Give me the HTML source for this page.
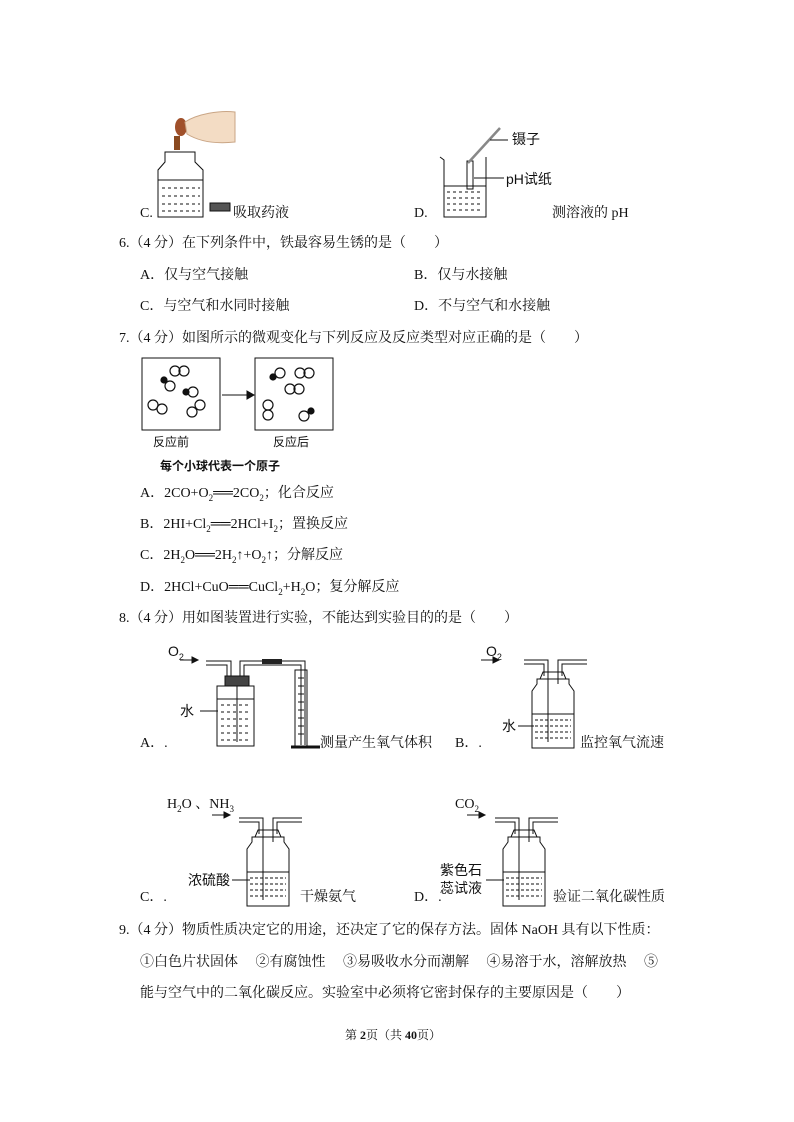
<!DOCTYPE html>
<html><head><meta charset="utf-8"><style>
body{margin:0;background:#fff;}
#p{position:relative;width:794px;height:1122px;overflow:hidden;font-family:"Liberation Serif","Noto Serif CJK SC",serif;font-size:14px;color:#111;}
.t{position:absolute;white-space:nowrap;line-height:16px;}
.s{font-family:"Liberation Sans","Noto Sans CJK SC",sans-serif;}
svg{position:absolute;left:0;top:0;}
</style></head><body><div id="p">
<svg width="794" height="1122" fill="none" stroke="#111" stroke-width="1">
<defs>
<g id="b">
<path d="M-29 0h24v16M-29 4h20v12M5 16v-16h29M9 16v-12h25"/>
<path d="M-10 12h20l3 7h-26z"/>
<path d="M-16 19h32v5l5 7v57h-42v-57l5-7z"/>
<path d="M-21 54h42"/>
<path d="M-18 60h36M-18 66h36M-18 72h36M-18 78h36" stroke-dasharray="3 2"/>
<path d="M-5 16v66M5 16v8"/>
</g>
</defs>
<path d="M165 152h30v10l8 8v47h-45v-47l7-8z"/>
<path d="M158 180h45"/>
<path d="M162 188h38M162 196h38M162 204h38M162 211h38" stroke-dasharray="3 3"/>
<path d="M177 150v-14" stroke="#8a4a20" stroke-width="6"/>
<ellipse cx="181" cy="127" rx="6" ry="9" fill="#a0502a" stroke="none"/>
<path d="M185 122c12-8 35-12 50-10l0 30c-18 2-35 0-48-8z" fill="#f3dcc4" stroke="#c9a585"/>
<rect x="210" y="203" width="20" height="8" fill="#555"/>
<path d="M440 157l4 3v57h42v-60"/>
<path d="M444 186h42" />
<path d="M447 192h36M447 198h36M447 204h36M447 210h36" stroke-dasharray="3 3"/>
<rect x="467" y="161" width="6" height="28"/>
<path d="M468 163l32-35" stroke-width="2.5" stroke="#888"/>
<path d="M490 140h18M474 178h30"/>
<rect x="142" y="358" width="78" height="72"/>
<rect x="255" y="358" width="78" height="72"/>
<path d="M222 395h28"/><path d="M247 391l7 4-7 4z" fill="#111"/>
<g stroke-width="1.2">
<circle cx="175" cy="371" r="5"/><circle cx="184" cy="371" r="5"/>
<circle cx="164" cy="380" r="3" fill="#111"/><circle cx="170" cy="386" r="5"/>
<circle cx="186" cy="392" r="3" fill="#111"/><circle cx="193" cy="392" r="5"/>
<circle cx="153" cy="405" r="5"/><circle cx="162" cy="409" r="5"/>
<circle cx="192" cy="412" r="5"/><circle cx="200" cy="405" r="5"/>
<circle cx="273" cy="377" r="3" fill="#111"/><circle cx="280" cy="373" r="5"/>
<circle cx="300" cy="373" r="5"/><circle cx="309" cy="373" r="5"/>
<circle cx="290" cy="389" r="5"/><circle cx="299" cy="389" r="5"/>
<circle cx="268" cy="405" r="5"/><circle cx="268" cy="415" r="5"/>
<circle cx="304" cy="416" r="5"/><circle cx="311" cy="411" r="3" fill="#111"/>
</g>
<path d="M180 660h14"/><path d="M192 657l6 3-6 3z" fill="#111"/>
<path d="M206 661h25v15M206 665h21v11M240 676v-15h27M244 676v-11h57v80M267 661h38v84"/>
<rect x="262" y="659" width="20" height="5" fill="#222" stroke="none"/>
<rect x="225" y="676" width="24" height="10" fill="#444"/>
<path d="M217 686h37v60h-37z"/>
<path d="M217 699h37"/>
<path d="M221 705h29M221 712h29M221 719h29M221 726h29M221 733h29M221 740h29" stroke-dasharray="3 3"/>
<path d="M237 686v56"/><path d="M200 711h18"/>
<rect x="295" y="670" width="12" height="76"/>
<path d="M298 678h6M298 686h6M298 694h6M298 702h6M298 710h6M298 718h6M298 726h6M298 734h6"/>
<path d="M291 747h29" stroke-width="3"/>
<path d="M481 660h14"/><path d="M493 657l6 3-6 3z" fill="#111"/>
<use href="#b" transform="translate(553,660)"/>
<path d="M518 726h16"/>
<path d="M212 815h14"/><path d="M224 812l6 3-6 3z" fill="#111"/>
<use href="#b" transform="translate(268,818)"/>
<path d="M232 880h18"/>
<path d="M467 815h14"/><path d="M479 812l6 3-6 3z" fill="#111"/>
<use href="#b" transform="translate(524,818)"/>
<path d="M486 880h18"/>
</svg>
<div class="t" style="left:140px;top:206px">C.</div>
<div class="t" style="left:233px;top:206px">吸取药液</div>
<div class="t s" style="left:512px;top:131px">镊子</div>
<div class="t s" style="left:506px;top:171px">pH试纸</div>
<div class="t" style="left:414px;top:206px">D.</div>
<div class="t" style="left:552px;top:206px">测溶液的 pH</div>
<div class="t" style="left:119px;top:236px">6.（4 分）在下列条件中，铁最容易生锈的是（　　）</div>
<div class="t" style="left:140px;top:268px">A．仅与空气接触</div>
<div class="t" style="left:414px;top:268px">B．仅与水接触</div>
<div class="t" style="left:140px;top:299px">C．与空气和水同时接触</div>
<div class="t" style="left:414px;top:299px">D．不与空气和水接触</div>
<div class="t" style="left:119px;top:331px">7.（4 分）如图所示的微观变化与下列反应及反应类型对应正确的是（　　）</div>
<div class="t s" style="left:153px;top:434px;font-size:12px">反应前</div>
<div class="t s" style="left:273px;top:434px;font-size:12px">反应后</div>
<div class="t s" style="left:160px;top:458px;font-size:12px;font-weight:bold">每个小球代表一个原子</div>
<div class="t" style="left:140px;top:486px">A．2CO+O<sub style="font-size:9px">2</sub>══2CO<sub style="font-size:9px">2</sub>；化合反应</div>
<div class="t" style="left:140px;top:517px">B．2HI+Cl<sub style="font-size:9px">2</sub>══2HCl+I<sub style="font-size:9px">2</sub>；置换反应</div>
<div class="t" style="left:140px;top:548px">C．2H<sub style="font-size:9px">2</sub>O══2H<sub style="font-size:9px">2</sub>↑+O<sub style="font-size:9px">2</sub>↑；分解反应</div>
<div class="t" style="left:140px;top:580px">D．2HCl+CuO══CuCl<sub style="font-size:9px">2</sub>+H<sub style="font-size:9px">2</sub>O；复分解反应</div>
<div class="t" style="left:119px;top:611px">8.（4 分）用如图装置进行实验，不能达到实验目的的是（　　）</div>
<div class="t s" style="left:168px;top:643px">O<sub style="font-size:9px">2</sub></div>
<div class="t s" style="left:180px;top:703px">水</div>
<div class="t" style="left:140px;top:736px">A．.</div>
<div class="t" style="left:320px;top:736px">测量产生氧气体积</div>
<div class="t s" style="left:486px;top:643px">O<sub style="font-size:9px">2</sub></div>
<div class="t s" style="left:502px;top:718px">水</div>
<div class="t" style="left:455px;top:736px">B．.</div>
<div class="t" style="left:580px;top:736px">监控氧气流速</div>
<div class="t" style="left:167px;top:797px">H<sub style="font-size:9px">2</sub>O 、NH<sub style="font-size:9px">3</sub></div>
<div class="t s" style="left:188px;top:872px">浓硫酸</div>
<div class="t" style="left:140px;top:890px">C．.</div>
<div class="t" style="left:300px;top:890px">干燥氨气</div>
<div class="t" style="left:455px;top:797px">CO<sub style="font-size:9px">2</sub></div>
<div class="t s" style="left:440px;top:862px">紫色石</div>
<div class="t s" style="left:440px;top:880px">蕊试液</div>
<div class="t" style="left:414px;top:890px">D．.</div>
<div class="t" style="left:553px;top:890px">验证二氧化碳性质</div>
<div class="t" style="left:119px;top:923px">9.（4 分）物质性质决定它的用途，还决定了它的保存方法。固体 NaOH 具有以下性质：</div>
<div class="t" style="left:140px;top:955px">①白色片状固体　 ②有腐蚀性　 ③易吸收水分而潮解　 ④易溶于水，溶解放热　 ⑤</div>
<div class="t" style="left:140px;top:986px">能与空气中的二氧化碳反应。实验室中必须将它密封保存的主要原因是（　　）</div>
<div class="t" style="left:345px;top:1027px;font-size:12px">第 <b>2</b>页（共 <b>40</b>页）</div>
</div></body></html>
